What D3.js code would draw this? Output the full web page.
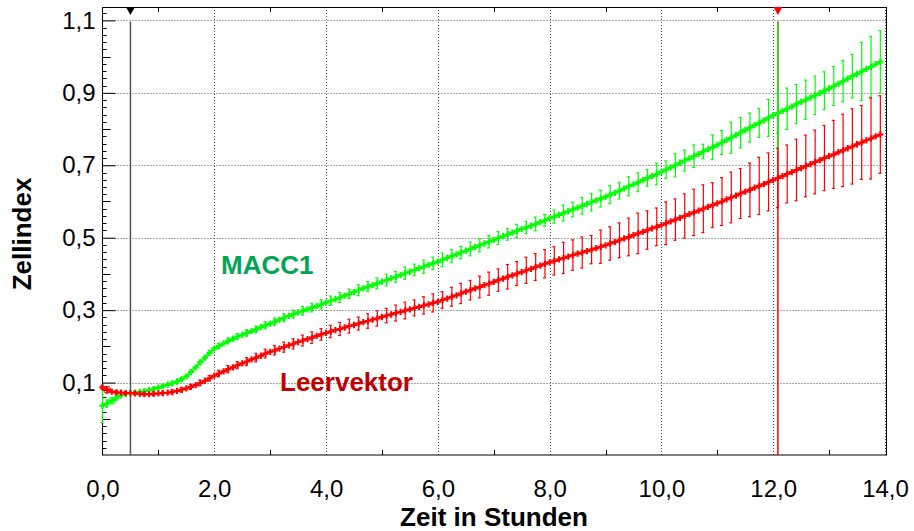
<!DOCTYPE html>
<html><head><meta charset="utf-8">
<script src="https://cdn.jsdelivr.net/npm/d3@7"></script>
<style>
body{margin:0;background:#fff}
svg{display:block;font-family:"Liberation Sans",Arial,Helvetica,sans-serif}
</style>
</head><body>
<svg id="chart" width="914" height="531"></svg>
<script>
// ---- data ----
const sampleStepMinutes = 5;              // one sample every 5 minutes
// MACC1 (green) – Zellindex per sample
const macc1 = [
 0.036,0.042,0.050,0.058,0.065,0.069,0.071,0.072,0.074,0.076,0.079,0.082,
 0.086,0.090,0.094,0.098,0.103,0.109,0.117,0.129,0.142,0.156,0.169,0.182,
 0.194,0.201,0.208,0.215,0.221,0.227,0.232,0.237,0.242,0.247,0.253,0.258,
 0.263,0.268,0.274,0.279,0.284,0.289,0.294,0.298,0.302,0.307,0.311,0.316,
 0.321,0.326,0.330,0.335,0.340,0.345,0.350,0.355,0.360,0.365,0.369,0.374,
 0.379,0.383,0.388,0.392,0.397,0.402,0.406,0.411,0.416,0.420,0.425,0.429,
 0.434,0.439,0.444,0.449,0.454,0.459,0.464,0.469,0.474,0.479,0.484,0.489,
 0.494,0.499,0.504,0.509,0.514,0.519,0.524,0.528,0.533,0.538,0.543,0.548,
 0.553,0.558,0.563,0.568,0.573,0.578,0.583,0.588,0.593,0.598,0.603,0.608,
 0.613,0.619,0.624,0.630,0.636,0.642,0.647,0.653,0.659,0.665,0.670,0.676,
 0.682,0.688,0.694,0.700,0.707,0.713,0.719,0.725,0.731,0.738,0.744,0.750,
 0.756,0.763,0.770,0.776,0.783,0.790,0.797,0.804,0.811,0.817,0.824,0.831,
 0.838,0.844,0.850,0.856,0.862,0.869,0.875,0.881,0.887,0.893,0.899,0.906,
 0.912,0.919,0.925,0.932,0.939,0.946,0.952,0.959,0.966,0.972,0.979,0.986
];
// Leervektor (red)
const leervektor = [
 0.087,0.080,0.075,0.073,0.072,0.071,0.071,0.070,0.069,0.068,0.068,0.069,
 0.070,0.071,0.072,0.074,0.077,0.080,0.084,0.088,0.093,0.099,0.105,0.112,
 0.119,0.125,0.131,0.137,0.142,0.148,0.153,0.158,0.164,0.169,0.174,0.180,
 0.185,0.189,0.194,0.198,0.203,0.207,0.212,0.216,0.220,0.224,0.229,0.233,
 0.237,0.241,0.245,0.248,0.252,0.256,0.259,0.263,0.267,0.270,0.274,0.277,
 0.281,0.285,0.288,0.292,0.295,0.299,0.302,0.306,0.309,0.313,0.316,0.320,
 0.323,0.328,0.332,0.337,0.341,0.346,0.351,0.355,0.360,0.364,0.369,0.373,
 0.378,0.383,0.387,0.392,0.396,0.401,0.405,0.410,0.414,0.419,0.423,0.428,
 0.432,0.436,0.440,0.444,0.448,0.452,0.456,0.459,0.463,0.467,0.471,0.475,
 0.479,0.484,0.488,0.493,0.498,0.502,0.507,0.512,0.516,0.521,0.526,0.530,
 0.535,0.540,0.545,0.550,0.555,0.560,0.565,0.570,0.575,0.580,0.585,0.590,
 0.595,0.600,0.606,0.611,0.616,0.622,0.627,0.632,0.638,0.643,0.648,0.654,
 0.659,0.665,0.670,0.676,0.681,0.687,0.692,0.698,0.703,0.709,0.714,0.720,
 0.725,0.730,0.736,0.741,0.747,0.752,0.758,0.763,0.769,0.774,0.780,0.785
];
// error half-widths: entry 0 -> sample 0, entry k>0 -> sample 2k-1
const macc1Err = [0.046,
 0.010,0.006,0.004,0.004,0.004,0.004,0.005,0.005,0.005,0.006,
 0.006,0.007,0.007,0.008,0.008,0.009,0.009,0.010,0.010,0.011,
 0.011,0.012,0.012,0.013,0.013,0.014,0.013,0.015,0.014,0.015,
 0.016,0.015,0.017,0.016,0.018,0.017,0.019,0.018,0.017,0.019,
 0.018,0.017,0.018,0.016,0.018,0.017,0.019,
 0.016,0.018,0.022,0.020,0.023,0.024,0.023,0.025,0.023,0.026,
 0.026,0.023,0.030,0.024,0.032,0.029,0.031,0.020,0.034,0.033,
 0.043,0.042,0.040,0.040,0.051,
 0.055,
 0.057,0.054,0.054,0.053,0.052,0.054,0.057,0.060,0.080,0.084,0.086];
const leerErr = [0.005,
 0.008,0.005,0.004,0.004,0.004,0.005,0.005,0.006,0.006,0.007,
 0.008,0.008,0.009,0.010,0.010,0.011,0.012,0.012,0.013,0.014,
 0.014,0.015,0.016,0.016,0.017,0.018,0.019,0.018,0.020,0.021,
 0.020,0.022,0.023,0.022,0.024,0.025,0.023,0.026,0.028,0.027,
 0.030,0.032,0.031,0.034,0.033,0.036,0.037,
 0.039,0.039,0.043,0.042,0.043,0.039,0.046,0.046,0.048,0.052,
 0.056,0.053,0.052,0.059,0.057,0.061,0.064,0.066,0.062,0.066,
 0.070,0.069,0.074,0.079,0.080,
 0.082,
 0.080,0.085,0.085,0.088,0.090,0.094,0.100,0.104,0.102,0.112,0.107];
const xTickValues = [0,2,4,6,8,10,12,14];
const xMinorTicks = [1,3,5,7,9,11,13];
const yTickValues = [0.1,0.3,0.5,0.7,0.9,1.1];
const seriesNames = ["MACC1","Leervektor"];
const xTitle = "Zeit in Stunden";
const yTitle = "Zellindex";
const markerTimes = [0.5, 145/12];          // vertical marker lines (h)
const greenMarkerSpan = [0.736, 1.093];      // green part of the right marker line
const circleSample = {macc1: 2, leervektor: 1};

// ---- layout ----
const svg = d3.select("#chart");
const L = 102.5, R = 885, T = 7, B = 455;
const x = d3.scaleLinear().domain([0,14]).range([L,R]);
const y = d3.scaleLinear().domain([-0.1,1.137]).range([B,T]);
const de = d3.formatLocale({decimal:",",thousands:".",grouping:[3],currency:["","€"]});
const fmt = de.format(".1f");
const tOf = i => i*sampleStepMinutes/60;

const GREEN = "#00ff00", RED = "#ff0000";
const TICK_FONT = 24;

// grid
const grid = svg.append("g").attr("stroke","#505050").attr("stroke-width",1).attr("stroke-dasharray","1,2");
yTickValues.forEach(v=>grid.append("line").attr("x1",L).attr("x2",R+2).attr("y1",Math.round(y(v))+0.5).attr("y2",Math.round(y(v))+0.5));
xTickValues.filter(v=>v>0).forEach(v=>grid.append("line").attr("x1",Math.round(x(v))+0.5).attr("x2",Math.round(x(v))+0.5).attr("y1",T).attr("y2",B));

// frame
svg.append("rect").attr("x",102.5).attr("y",7.5).attr("width",784).attr("height",447.5)
  .attr("fill","none").attr("stroke","#000").attr("stroke-width",1);

// left axis ticks
const yAxis = d3.axisLeft(y).tickValues(yTickValues).tickFormat(fmt).tickSizeInner(-13).tickSizeOuter(0).tickPadding(7);
const gy = svg.append("g").attr("transform",`translate(${L},0)`).call(yAxis);
gy.select(".domain").remove();
gy.selectAll("text").attr("font-size",TICK_FONT).attr("fill","#000").attr("font-family","Liberation Sans, Arial, sans-serif");
gy.selectAll("line").attr("stroke","#000");
const minorY = d3.range(-0.08,1.13,0.02).map(v=>+v.toFixed(2)).filter(v=>!yTickValues.some(t=>Math.abs(t-v)<1e-6));
svg.append("g").selectAll("line").data(minorY).join("line")
  .attr("x1",L).attr("x2",d=>L+(Math.abs(Math.round(d*10)-d*10)<1e-6 ? 8:4))
  .attr("y1",d=>Math.round(y(d))+0.5).attr("y2",d=>Math.round(y(d))+0.5).attr("stroke","#000");

// bottom axis labels
const xAxis = d3.axisBottom(x).tickValues(xTickValues).tickFormat(fmt).tickSize(0).tickPadding(25);
const gx = svg.append("g").attr("transform",`translate(0,${B})`).call(xAxis);
gx.select(".domain").remove();
gx.selectAll("text").attr("font-size",TICK_FONT).attr("fill","#000").attr("font-family","Liberation Sans, Arial, sans-serif");
// odd hour ticks bottom & top
svg.append("g").selectAll("line").data(xMinorTicks).join("line")
  .attr("x1",d=>Math.round(x(d))+0.5).attr("x2",d=>Math.round(x(d))+0.5).attr("y1",B).attr("y2",B-5).attr("stroke","#000");
svg.append("g").selectAll("line").data(xMinorTicks).join("line")
  .attr("x1",d=>Math.round(x(d))+0.5).attr("x2",d=>Math.round(x(d))+0.5).attr("y1",T).attr("y2",T+5).attr("stroke","#000");

// axis titles
svg.append("text").attr("x",494).attr("y",526).attr("text-anchor","middle")
  .attr("font-size",26).attr("font-weight","bold").text(xTitle);
svg.append("text").attr("transform","translate(31,234) rotate(-90)").attr("text-anchor","middle")
  .attr("font-size",26).attr("font-weight","bold").text(yTitle);

// marker lines
svg.append("line").attr("x1",x(markerTimes[0])).attr("x2",x(markerTimes[0]))
  .attr("y1",y(1.1)+1).attr("y2",B).attr("stroke","#555").attr("stroke-width",1.5);
svg.append("line").attr("x1",x(markerTimes[1])).attr("x2",x(markerTimes[1]))
  .attr("y1",y(1.1)+1).attr("y2",B).attr("stroke",RED).attr("stroke-width",1.5);
svg.append("line").attr("x1",x(markerTimes[1])).attr("x2",x(markerTimes[1]))
  .attr("y1",y(greenMarkerSpan[1])).attr("y2",y(greenMarkerSpan[0])).attr("stroke",GREEN).attr("stroke-width",1.5);
[[markerTimes[0],"#000"],[markerTimes[1],RED]].forEach(([t,c])=>{
  const cx = x(t);
  svg.append("path").attr("d",`M${cx-4.5},${T} L${cx+4.5},${T} L${cx},${T+8} Z`).attr("fill",c);
});

// series
function drawSeries(vals, errs, color, circleIdx){
  const g = svg.append("g");
  const pts = vals.map((v,i)=>({t:tOf(i),v,i}));
  const bars = errs.map((e,k)=>{const i = k===0?0:2*k-1; return {t:tOf(i), v:vals[i], e};});
  const eb = g.append("g").attr("stroke",color).attr("stroke-width",1.2).attr("fill","none");
  bars.forEach(b=>{
    const cx = x(b.t), y1 = y(b.v+b.e), y2 = y(b.v-b.e);
    eb.append("line").attr("x1",cx).attr("x2",cx).attr("y1",y1).attr("y2",y2);
    eb.append("line").attr("x1",cx-2).attr("x2",cx+1).attr("y1",y1).attr("y2",y1);
    eb.append("line").attr("x1",cx-2).attr("x2",cx+1).attr("y1",y2).attr("y2",y2);
  });
  const line = d3.line().x(d=>x(d.t)).y(d=>y(d.v));
  g.append("path").datum(pts).attr("d",line).attr("fill","none").attr("stroke",color).attr("stroke-width",1.8);
  g.selectAll(".m").data(pts).join("path").attr("class","m")
    .attr("transform",d=>`translate(${x(d.t)},${y(d.v)})`)
    .attr("d",d3.symbol(d3.symbolCross,22)).attr("fill",color);
  const c = pts[circleIdx];
  g.append("circle").attr("cx",x(c.t)).attr("cy",y(c.v)).attr("r",3.5).attr("fill","none").attr("stroke",color).attr("stroke-width",1);
}
drawSeries(macc1, macc1Err, GREEN, circleSample.macc1);
drawSeries(leervektor, leerErr, RED, circleSample.leervektor);

// series labels
svg.append("text").attr("x",221).attr("y",274).attr("font-size",26).attr("font-weight","bold")
  .attr("fill","#00a651").text(seriesNames[0]);
svg.append("text").attr("x",280).attr("y",391).attr("font-size",26).attr("font-weight","bold")
  .attr("fill","#c00000").text(seriesNames[1]);
</script>
</body></html>
